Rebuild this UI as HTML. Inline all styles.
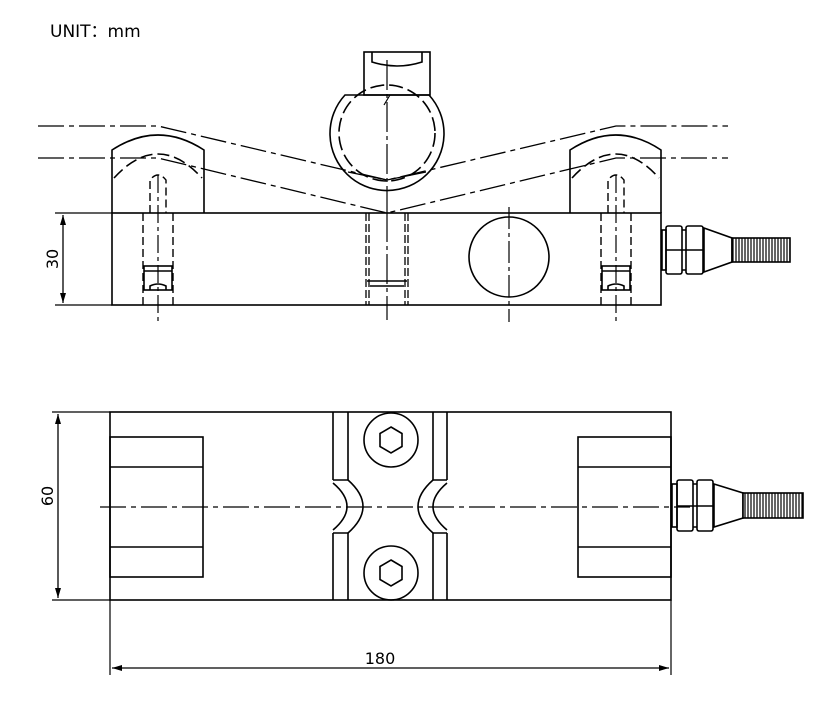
<!DOCTYPE html>
<html><head><meta charset="utf-8"><style>
html,body{margin:0;padding:0;background:#fff;}
svg{display:block;}
text{font-family:"DejaVu Sans","Liberation Sans",sans-serif;fill:#000;}
</style></head><body>
<svg width="833" height="706" viewBox="0 0 833 706" xmlns="http://www.w3.org/2000/svg">
<defs>
<marker id="ar" viewBox="0 0 10 6" refX="10" refY="3" markerWidth="10" markerHeight="6" markerUnits="userSpaceOnUse" orient="auto-start-reverse">
<path d="M0,0 L10,3 L0,6 z" fill="#000"/></marker>
<pattern id="th" width="3" height="10" patternUnits="userSpaceOnUse"><rect width="3" height="10" fill="#fff"/><line x1="1" y1="0" x2="1" y2="10" stroke="#000" stroke-width="1.2"/></pattern>
</defs>
<text x="50" y="37" font-size="17">UNIT：mm</text>
<g fill="none" stroke="#000" stroke-width="1.6">
<g stroke-width="1.3" stroke-dasharray="26,5,5,5">
<path d="M38,126 H158 L387,180 L616,126 H728"/>
<path d="M38,158 H158 L387,213 L616,158 H728"/>
</g>
<rect x="112" y="213" width="549" height="92"/>
<path d="M112,213 V150 Q158,120 204,150 V213"/>
<path d="M114,178 Q158,130 202,178" stroke-dasharray="12,5"/>
<path d="M570,213 V150 Q616,120 661,150 V213"/>
<path d="M572,178 Q616,130 659,178" stroke-dasharray="12,5"/>
<g stroke-dasharray="8,4" stroke-width="1.4">
<path d="M150,213 V180 Q158,170 166,180 V213"/>
<path d="M143,213 V305 M173,213 V305"/>
<path d="M608,213 V180 Q616,170 624,180 V213"/>
<path d="M601,213 V305 M631,213 V305"/>
</g>
<rect x="144" y="266" width="28" height="24"/>
<path d="M144,271 H172 M150,290 V286 Q158,282 166,286 V290"/>
<rect x="602" y="266" width="28" height="24"/>
<path d="M602,271 H630 M608,290 V286 Q616,282 624,286 V290"/>
<g stroke-width="1.2" stroke-dasharray="18,4,4,4">
<path d="M158,175 V325 M616,175 V325"/>
</g>
<rect x="364" y="52" width="66" height="43"/>
<path d="M372,52 V62 Q397,70 422,62 V52"/>
<path d="M345,95 H429 A57,57 0 1 1 345,95 Z"/>
<path d="M390,95 L384,105" stroke-width="1.2"/>
<circle cx="387" cy="133" r="48" stroke-dasharray="14,5"/>
<path d="M348,172 L387,180 L426,172" stroke-width="1.3"/>
<g stroke-dasharray="8,3" stroke-width="1.3">
<path d="M366,213 V305 M369,213 V305 M405,213 V305 M408,213 V305"/>
</g>
<path d="M367,281 H407 M370,286 H404" />
<path d="M387,212 V320" stroke-width="1.2" stroke-dasharray="30,4,4,4"/>
<path d="M387,60 V212" stroke-width="1.2" stroke-dasharray="30,4,4,4"/>
<circle cx="509" cy="257" r="40"/>
<path d="M509,207 V322" stroke-width="1.2" stroke-dasharray="22,4,4,4"/>
<rect x="662" y="230" width="4" height="40"/>
<rect x="666" y="226" width="16" height="48" rx="2"/>
<rect x="686" y="226" width="17" height="48" rx="2"/>
<path d="M666,250 H703 M682,230 H686 M682,270 H686"/>
<path d="M704,228 L732,238 V262 L704,272 Z"/>
<rect x="732" y="238" width="58" height="24" fill="url(#th)"/>
<path d="M55,213 H112 M55,305 H112" stroke-width="1.2"/>
<path d="M63,215 V303" stroke-width="1.3" marker-start="url(#ar)" marker-end="url(#ar)"/>

<rect x="110" y="412" width="561" height="188"/>
<rect x="110" y="437" width="93" height="140"/>
<path d="M110,467 H203 M110,547 H203"/>
<rect x="578" y="437" width="93" height="140"/>
<path d="M578,467 H671 M578,547 H671"/>
<!-- center block with notches -->
<path d="M333,412 V480 M333,533 V600 M333,480 H348 M333,533 H348"/>
<path d="M348,412 V480 M348,533 V600"/>
<path d="M348,480 Q378,506.5 348,533"/>
<path d="M333,483 Q361,506.5 333,530"/>
<path d="M447,412 V480 M447,533 V600 M447,480 H433 M447,533 H433"/>
<path d="M433,412 V480 M433,533 V600"/>
<path d="M433,480 Q403,506.5 433,533"/>
<path d="M447,483 Q419,506.5 447,530"/>
<circle cx="391" cy="440" r="27"/>
<polygon points="391,427 402,433.5 402,446.5 391,453 380,446.5 380,433.5"/>
<circle cx="391" cy="573" r="27"/>
<polygon points="391,560 402,566.5 402,579.5 391,586 380,579.5 380,566.5"/>
<path d="M100,507 H690" stroke-width="1.2" stroke-dasharray="26,5,5,5"/>
<rect x="672" y="484" width="5" height="43"/>
<rect x="677" y="480" width="16" height="51" rx="2"/>
<rect x="697" y="480" width="16" height="51" rx="2"/>
<path d="M677,506 H713 M693,484 H697 M693,527 H697"/>
<path d="M714,484 L743,493 V518 L714,527 Z"/>
<rect x="743" y="493" width="60" height="25" fill="url(#th)"/>
<path d="M52,412 H110 M52,600 H110" stroke-width="1.2"/>
<path d="M58,414 V598" stroke-width="1.3" marker-start="url(#ar)" marker-end="url(#ar)"/>
<path d="M110,600 V675 M671,600 V675" stroke-width="1.2"/>
<path d="M112,668 H669" stroke-width="1.3" marker-start="url(#ar)" marker-end="url(#ar)"/>
</g>
<text x="380" y="664" font-size="16" text-anchor="middle">180</text>
<text transform="translate(58,259) rotate(-90)" font-size="16" text-anchor="middle">30</text>
<text transform="translate(53,496) rotate(-90)" font-size="16" text-anchor="middle">60</text>
</svg>
</body></html>
